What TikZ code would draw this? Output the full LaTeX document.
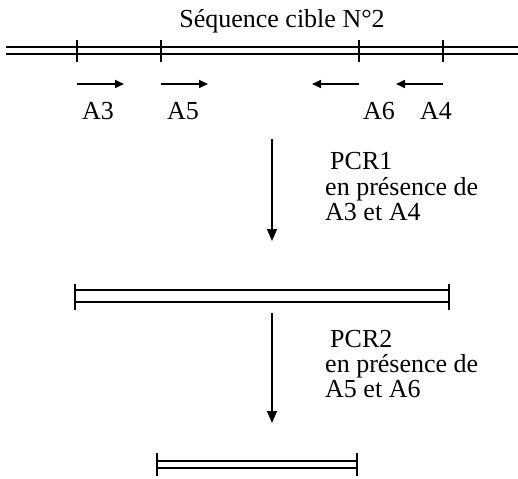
\documentclass[tikz,border=0pt]{standalone}
\usepackage{fontspec}
\setmainfont{Liberation Serif}
\usetikzlibrary{arrows.meta}
\tikzset{
  strand/.style={line width=1.6pt},
  tick/.style={line width=1.8pt},
  primer/.style={line width=1.6pt,-{Triangle[length=9pt,width=8pt]}},
  stepdown/.style={line width=1.6pt,-{Triangle[length=12pt,width=10pt]}},
  lbl/.style={inner sep=0pt,font=\fontsize{26}{25}\selectfont},
  note/.style={inner sep=0pt,anchor=base west,align=left,font=\fontsize{26}{25}\selectfont}
}
\begin{document}
\begin{tikzpicture}[x=1pt,y=-1pt]
\useasboundingbox (0,0) rectangle (518,478);

% target sequence
\node[lbl,anchor=base] (title) at (282,28) {Séquence cible N°2};
\coordinate (t1l) at (6,47);  \coordinate (t1r) at (518,47);
\coordinate (t2l) at (6,54);  \coordinate (t2r) at (518,54);
\draw[strand] (t1l) -- (t1r);
\draw[strand] (t2l) -- (t2r);
\foreach \n/\x in {a/77,b/161,c/359,d/443}{
  \coordinate (k\n t) at (\x,40); \coordinate (k\n b) at (\x,62);
  \draw[tick] (k\n t) -- (k\n b);
}

% primers
\coordinate (p3s) at (77,84);  \coordinate (p3e) at (124,84);
\coordinate (p5s) at (161,84); \coordinate (p5e) at (208,84);
\coordinate (p6s) at (359,84); \coordinate (p6e) at (312,84);
\coordinate (p4s) at (443,84); \coordinate (p4e) at (396,84);
\draw[primer] (p3s) -- (p3e);
\draw[primer] (p5s) -- (p5e);
\draw[primer] (p6s) -- (p6e);
\draw[primer] (p4s) -- (p4e);
\node[lbl,anchor=base] (A3) at (98,120) {A3};
\node[lbl,anchor=base] (A5) at (183,120) {A5};
\node[lbl,anchor=base] (A6) at (379,120) {A6};
\node[lbl,anchor=base] (A4) at (436,120) {A4};

% first amplification
\coordinate (s1a) at (272,139); \coordinate (s1b) at (272,241);
\draw[stepdown] (s1a) -- (s1b);
\node[note] (pcr1) at (330,170) {PCR1};
\node[note] (pcr1a) at (325,195) {en présence de};
\node[note] (pcr1b) at (325,220) {A3 et A4};

% first product
\coordinate (m1l) at (75,290); \coordinate (m1r) at (449,290);
\coordinate (m2l) at (75,302); \coordinate (m2r) at (449,302);
\draw[strand] (m1l) -- (m1r);
\draw[strand] (m2l) -- (m2r);
\coordinate (mlt) at (75,284); \coordinate (mlb) at (75,310);
\coordinate (mrt) at (449,284); \coordinate (mrb) at (449,310);
\draw[tick] (mlt) -- (mlb);
\draw[tick] (mrt) -- (mrb);

% second amplification
\coordinate (s2a) at (272,313); \coordinate (s2b) at (272,423);
\draw[stepdown] (s2a) -- (s2b);
\node[note] (pcr2) at (330,347) {PCR2};
\node[note] (pcr2a) at (325,372) {en présence de};
\node[note] (pcr2b) at (325,397) {A5 et A6};

% second product
\coordinate (n1l) at (157,461); \coordinate (n1r) at (357,461);
\coordinate (n2l) at (157,468); \coordinate (n2r) at (357,468);
\draw[strand] (n1l) -- (n1r);
\draw[strand] (n2l) -- (n2r);
\coordinate (nlt) at (157,453); \coordinate (nlb) at (157,476);
\coordinate (nrt) at (357,453); \coordinate (nrb) at (357,476);
\draw[tick] (nlt) -- (nlb);
\draw[tick] (nrt) -- (nrb);
\end{tikzpicture}
\end{document}
